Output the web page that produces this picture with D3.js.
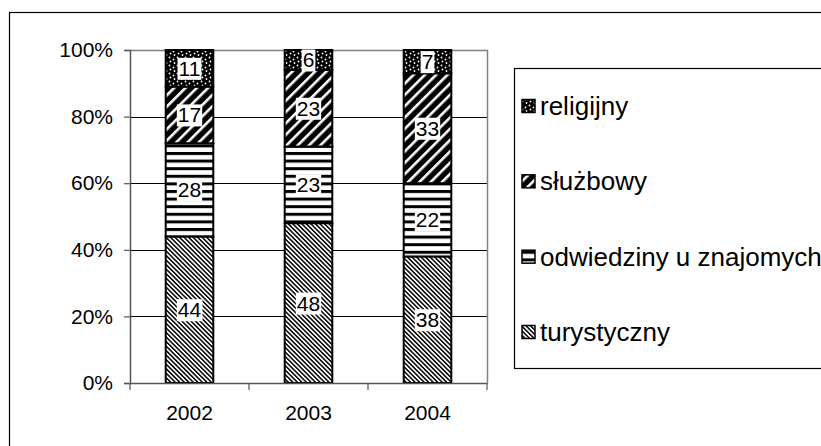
<!DOCTYPE html>
<html><head><meta charset="utf-8">
<script src="https://cdn.jsdelivr.net/npm/d3@7"></script>
<style>
html,body{margin:0;padding:0;background:#fff;}
svg{display:block;font-family:"Liberation Sans",Arial,sans-serif;}
</style></head>
<body>
<svg id="chart" width="821" height="446"></svg>
<script>
// ---- data ----
const years = ["2002", "2003", "2004"];
const seriesNames = ["turystyczny", "odwiedziny u znajomych", "służbowy", "religijny"];
const turystyczny = [44, 48, 38];
const odwiedziny = [28, 23, 22];
const sluzbowy = [17, 23, 33];
const religijny = [11, 6, 7];
const yTicks = [0, 20, 40, 60, 80, 100];

const seriesValues = [turystyczny, odwiedziny, sluzbowy, religijny];
const patternIds = ["pTur", "pOdw", "pSlu", "pRel"];

const svg = d3.select("#chart");
const defs = svg.append("defs");

// turystyczny: fine "\" lines
let p = defs.append("pattern").attr("id", "pTur").attr("patternUnits", "userSpaceOnUse")
  .attr("width", 3.2).attr("height", 3.2).attr("patternTransform", "rotate(-45)");
p.append("rect").attr("width", 3.2).attr("height", 3.2).attr("fill", "#fff");
p.append("rect").attr("width", 1.5).attr("height", 3.2).attr("fill", "#000");
// odwiedziny: horizontal stripes
p = defs.append("pattern").attr("id", "pOdw").attr("patternUnits", "userSpaceOnUse")
  .attr("width", 8).attr("height", 7.6);
p.append("rect").attr("width", 8).attr("height", 7.6).attr("fill", "#fff");
p.append("rect").attr("y", 0).attr("width", 8).attr("height", 3).attr("fill", "#000");
// służbowy: wide black "/" stripes with thin white
p = defs.append("pattern").attr("id", "pSlu").attr("patternUnits", "userSpaceOnUse")
  .attr("width", 8).attr("height", 8).attr("patternTransform", "rotate(45)");
p.append("rect").attr("width", 8).attr("height", 8).attr("fill", "#000");
p.append("rect").attr("width", 2.6).attr("height", 8).attr("fill", "#fff");
// religijny: black with white dots
p = defs.append("pattern").attr("id", "pRel").attr("patternUnits", "userSpaceOnUse")
  .attr("width", 8).attr("height", 8);
p.append("rect").attr("width", 8).attr("height", 8).attr("fill", "#000");
[[1.5, 1.5], [5.5, 3.5], [2.5, 5.5], [6.5, 7]].forEach(([cx, cy]) =>
  p.append("circle").attr("cx", cx).attr("cy", cy).attr("r", 0.9).attr("fill", "#fff"));

// outer frame
svg.append("rect").attr("x", 9.5).attr("y", 12.5).attr("width", 840).attr("height", 460)
  .attr("fill", "none").attr("stroke", "#000").attr("stroke-width", 1.2);

const plotLeft = 130, plotRight = 487, plotTop = 50, plotBottom = 383;
const x = d3.scaleBand().domain(years).range([plotLeft, plotRight]).paddingInner(0.6).paddingOuter(0.3);
const y = d3.scaleLinear().domain([0, 100]).range([plotBottom, plotTop]);

// gridlines
svg.append("g").selectAll("line").data(yTicks.filter(t => t > 0 && t < 100)).join("line")
  .attr("x1", plotLeft).attr("x2", plotRight)
  .attr("y1", d => Math.round(y(d)) + 0.5).attr("y2", d => Math.round(y(d)) + 0.5)
  .attr("stroke", "#000").attr("stroke-width", 1);
// plot border top/right
svg.append("path")
  .attr("d", `M${plotLeft},${y(100) + 0.5}H${plotRight + 0.5}V${plotBottom}`)
  .attr("fill", "none").attr("stroke", "#808080").attr("stroke-width", 1.5);

// stacked bars
const stackData = years.map((yr, i) => {
  const o = { year: yr };
  seriesNames.forEach((s, k) => o[s] = seriesValues[k][i]);
  return o;
});
const stacked = d3.stack().keys(seriesNames)(stackData);

const barG = svg.append("g");
stacked.forEach((layer, k) => {
  barG.append("g").selectAll("rect").data(layer).join("rect")
    .attr("x", d => x(d.data.year))
    .attr("width", x.bandwidth())
    .attr("y", d => y(d[1]))
    .attr("height", d => y(d[0]) - y(d[1]))
    .attr("fill", `url(#${patternIds[k]})`)
    .attr("stroke", "#000").attr("stroke-width", 2);
});

// value labels
const labG = svg.append("g");
stacked.forEach((layer, k) => {
  layer.forEach(d => {
    const cx = x(d.data.year) + x.bandwidth() / 2;
    const cy = (y(d[0]) + y(d[1])) / 2;
    const g = labG.append("g");
    const t = g.append("text").attr("x", cx).attr("y", cy + 7.5)
      .attr("text-anchor", "middle").attr("font-size", 21).attr("fill", "#000")
      .text(d.data[seriesNames[k]]);
    const bb = t.node().getBBox();
    g.insert("rect", "text").attr("x", bb.x - 1).attr("y", bb.y + 1)
      .attr("width", bb.width + 2).attr("height", bb.height - 1).attr("fill", "#fff");
  });
});

// left axis
const yAxis = svg.append("g").attr("transform", `translate(${plotLeft},0)`)
  .call(d3.axisLeft(y).tickValues(yTicks).tickFormat(d => d + "%").tickSize(6).tickPadding(11));
yAxis.select(".domain").attr("stroke", "#555").attr("stroke-width", 1.5);
yAxis.selectAll(".tick line").attr("stroke", "#555").attr("stroke-width", 1.2);
yAxis.selectAll("text").attr("font-size", 21).attr("font-family", "Liberation Sans, Arial, sans-serif")
  .attr("fill", "#000");

// bottom axis
const xAxis = svg.append("g").attr("transform", `translate(0,${plotBottom})`)
  .call(d3.axisBottom(x).tickSize(0).tickPadding(22));
xAxis.select(".domain").attr("stroke", "#555").attr("stroke-width", 1.5)
  .attr("d", `M${plotLeft},0.5H${plotRight + 0.5}`);
xAxis.selectAll("text").attr("font-size", 21).attr("font-family", "Liberation Sans, Arial, sans-serif")
  .attr("fill", "#000");
const bounds = years.map(yr => x(yr) - x.step() * x.paddingInner() / 2).concat([plotRight]);
xAxis.append("g").selectAll("line").data(bounds).join("line")
  .attr("x1", d => d).attr("x2", d => d).attr("y1", 0).attr("y2", 7)
  .attr("stroke", "#555").attr("stroke-width", 1.2);

// legend
const lg = svg.append("g");
lg.append("rect").attr("x", 514.5).attr("y", 68.5).attr("width", 340).attr("height", 300)
  .attr("fill", "#fff").attr("stroke", "#000").attr("stroke-width", 1.2);
const legendOrder = seriesNames.map((s, k) => ({ name: s, id: patternIds[k] })).reverse();
const legY = d3.scalePoint().domain(legendOrder.map(d => d.name)).range([106, 332]);
legendOrder.forEach(d => {
  const cy = legY(d.name);
  lg.append("rect").attr("x", 522).attr("y", cy - 6.5).attr("width", 13).attr("height", 13)
    .attr("fill", `url(#${d.id})`).attr("stroke", "#000").attr("stroke-width", 1.5);
  lg.append("text").attr("x", 540).attr("y", cy + 9).attr("font-size", 26).attr("fill", "#000")
    .text(d.name);
});
</script>
</body></html>
